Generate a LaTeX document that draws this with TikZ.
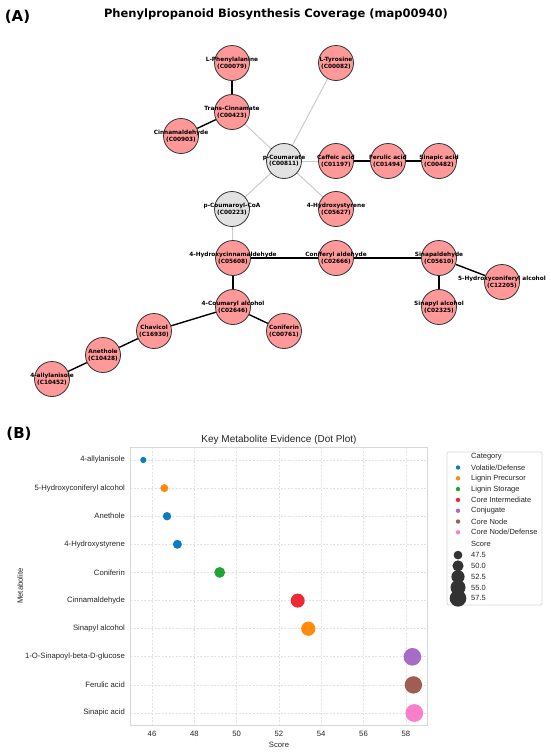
\documentclass[tikz,border=0pt]{standalone}
\usepackage{fontspec}
\newfontfamily\dvs{DejaVu Sans}
\newfontfamily\lib{Liberation Sans}
\usetikzlibrary{backgrounds}
\definecolor{nred}{HTML}{FF9999}
\definecolor{ngray}{HTML}{E2E2E2}
\definecolor{nedge}{HTML}{333333}
\definecolor{ledge}{HTML}{CCCCCC}
\definecolor{cblue}{HTML}{0E7CC0}
\definecolor{corange}{HTML}{FF8A0C}
\definecolor{cgreen}{HTML}{1FA533}
\definecolor{cred}{HTML}{EE2A36}
\definecolor{cpurple}{HTML}{A66CC6}
\definecolor{cbrown}{HTML}{A05E52}
\definecolor{cpink}{HTML}{F97FCB}
\definecolor{gridc}{HTML}{E3E3E3}
\definecolor{framec}{HTML}{D8D8D8}
\definecolor{txt}{HTML}{262626}
\begin{document}
\begin{tikzpicture}[x=1pt,y=-1pt,
  nlab/.style={align=center,font=\dvs\bfseries\fontsize{5.8}{6.4}\selectfont,text=black,inner sep=0pt},
  met/.style={circle,draw=nedge,line width=0.8pt,fill=nred,minimum size=35pt,inner sep=0pt,
    label={[nlab]center:#1}},
  hub/.style={met=#1,fill=ngray},
  strong/.style={draw=black,line width=1.4pt},
  weak/.style={draw=ledge,line width=1pt},
  ylab/.style={anchor=east,font=\lib\fontsize{7.7}{9}\selectfont,text=txt,inner sep=0pt},
  xlab/.style={anchor=center,font=\lib\fontsize{7.7}{9}\selectfont,text=txt,inner sep=0pt},
  leg/.style={anchor=west,font=\lib\fontsize{7.5}{9}\selectfont,text=txt,inner sep=0pt},
  panel/.style={font=\dvs\bfseries\fontsize{15}{18}\selectfont,inner sep=0pt},
  grid line/.style={draw=gridc,line width=0.6pt,dash pattern=on 2pt off 1.5pt}
]
\useasboundingbox (0,0) rectangle (550,753);
\begin{scope}[on background layer]
\fill[white] (0,0) rectangle (550,753);
\end{scope}

% ---------- Panel A ----------
\node[panel] (pA) at (17.5,17) {(A)};
\node[font=\dvs\bfseries\fontsize{11.5}{13}\selectfont] (tA) at (276,14) {Phenylpropanoid Biosynthesis Coverage (map00940)};

\node[met={L-Phenylalanine\\(C00079)}] (phe) at (232,63) {};
\node[met={L-Tyrosine\\(C00082)}] (tyr) at (336,63) {};
\node[met={Trans-Cinnamate\\(C00423)}] (tci) at (232,112) {};
\node[met={Cinnamaldehyde\\(C00903)}] (cal) at (181,136) {};
\node[hub={p-Coumarate\\(C00811)}] (pcou) at (284,161) {};
\node[met={Caffeic acid\\(C01197)}] (caf) at (336,161) {};
\node[met={Ferulic acid\\(C01494)}] (fer) at (388,161) {};
\node[met={Sinapic acid\\(C00482)}] (sin) at (439,161) {};
\node[met={4-Hydroxystyrene\\(C05627)}] (hst) at (336,209) {};
\node[hub={p-Coumaroyl-CoA\\(C00223)}] (pcoa) at (232,209) {};
\node[met={4-Hydroxycinnamaldehyde\\(C05608)}] (hca) at (233,258) {};
\node[met={Coniferyl aldehyde\\(C02666)}] (cona) at (336,258) {};
\node[met={Sinapaldehyde\\(C05610)}] (sald) at (439,258) {};
\node[met={5-Hydroxyconiferyl alcohol\\(C12205)}] (hcon) at (502,282) {};
\node[met={Sinapyl alcohol\\(C02325)}] (salc) at (439,307) {};
\node[met={4-Coumaryl alcohol\\(C02646)}] (cou) at (233,307) {};
\node[met={Coniferin\\(C00761)}] (conf) at (284,331) {};
\node[met={Chavicol\\(C16930)}] (chav) at (154,331) {};
\node[met={Anethole\\(C10428)}] (anet) at (103,355) {};
\node[met={4-allylanisole\\(C10452)}] (ally) at (52,379) {};

\begin{scope}[on background layer]
\draw[strong] (phe) -- (tci);
\draw[strong] (tci) -- (cal);
\draw[weak] (tci) -- (pcou);
\draw[weak] (tyr) -- (pcou);
\draw[weak] (pcou) -- (caf);
\draw[strong] (caf) -- (fer);
\draw[strong] (fer) -- (sin);
\draw[weak] (pcou) -- (hst);
\draw[weak] (pcou) -- (pcoa);
\draw[weak] (pcoa) -- (hca);
\draw[strong] (hca) -- (cona);
\draw[strong] (cona) -- (sald);
\draw[strong] (sald) -- (hcon);
\draw[strong] (sald) -- (salc);
\draw[strong] (hca) -- (cou);
\draw[strong] (cou) -- (conf);
\draw[strong] (cou) -- (chav);
\draw[strong] (chav) -- (anet);
\draw[strong] (anet) -- (ally);
\end{scope}

% ---------- Panel B ----------
\node[panel] (pB) at (19,434) {(B)};
\node[font=\lib\fontsize{10}{12}\selectfont,text=txt] (tB) at (279,440) {Key Metabolite Evidence (Dot Plot)};

% grid
\foreach \t in {46,48,...,58} {
  \pgfmathsetmacro\xx{152+(\t-46)*21.15}
  \draw[grid line] (\xx,447) -- (\xx,725);
  \node[xlab] (xt\t) at (\xx,734) {\t};
}
\foreach \i/\lab in {0/4-allylanisole,1/5-Hydroxyconiferyl alcohol,2/Anethole,3/4-Hydroxystyrene,4/Coniferin,5/Cinnamaldehyde,6/Sinapyl alcohol,7/1-O-Sinapoyl-beta-D-glucose,8/Ferulic acid,9/Sinapic acid} {
  \pgfmathsetmacro\yy{460+\i*28.11}
  \draw[grid line] (130,\yy) -- (427.5,\yy);
  \node[ylab] (yt\i) at (125,\yy) {\lab};
}
\draw[framec,line width=0.8pt] (130,447) rectangle (427.5,725);

\node[xlab] (xl) at (279,745) {Score};
\node[xlab,rotate=90] (yl) at (20,586) {Metabolite};

% dots
\fill[cblue]   (143.3,460)    circle (3.1);
\fill[corange] (164.3,488.1)  circle (4.0);
\fill[cblue]   (167.0,516.2)  circle (4.2);
\fill[cblue]   (177.4,544.3)  circle (4.5);
\fill[cgreen]  (219.7,572.4)  circle (5.4);
\fill[cred]    (297.7,600.6)  circle (7.0);
\fill[corange] (308.3,628.7)  circle (7.1);
\fill[cpurple] (412.4,656.8)  circle (8.8);
\fill[cbrown]  (413.4,684.9)  circle (8.7);
\fill[cpink]   (414.3,713.0)  circle (8.9);

% legend
\draw[framec,line width=0.7pt,fill=white,rounded corners=2pt] (447,452) rectangle (542,605);
\node[leg] (lg0) at (471,456.7) {Category};
\foreach \i/\c/\lab in {1/cblue/{Volatile/Defense},2/corange/{Lignin Precursor},3/cgreen/{Lignin Storage},4/cred/{Core Intermediate},5/cpurple/{Conjugate},6/cbrown/{Core Node},7/cpink/{Core Node/Defense}} {
  \pgfmathsetmacro\yy{456.7+\i*10.8}
  \fill[\c] (458,\yy) circle (2.2);
  \node[leg] (lgc\i) at (471,\yy) {\lab};
}
\node[leg] (lgs) at (471,544.3) {Score};
\foreach \i/\r/\lab in {1/4.35/47.5,2/5.6/50.0,3/6.6/52.5,4/7.5/55.0,5/8.3/57.5} {
  \pgfmathsetmacro\yy{544.3+\i*10.8}
  \fill[nedge] (458,\yy) circle (\r);
  \node[leg] (lgs\i) at (471,\yy) {\lab};
}
\end{tikzpicture}
\end{document}
